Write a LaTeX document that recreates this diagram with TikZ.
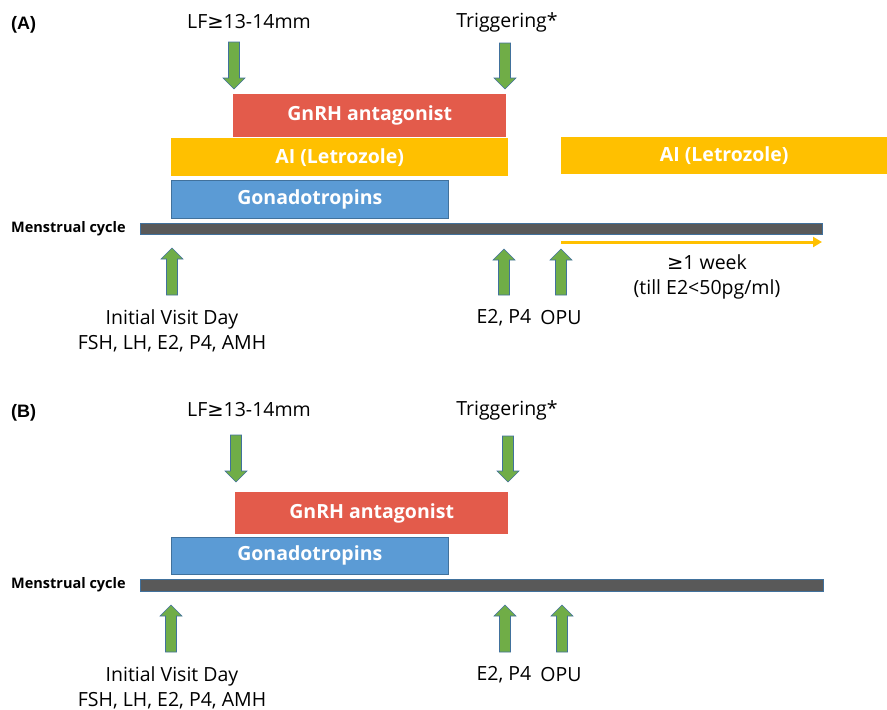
\documentclass[tikz,border=0pt]{standalone}
\usepackage{fontspec}
\usetikzlibrary{arrows.meta}
\setmainfont{Open Sans}
\newfontfamily\labfont{Liberation Sans}
\newfontfamily\symfont{DejaVu Sans}
\newcommand{\gesym}{{\symfont ≥}}
\definecolor{gnrh}{HTML}{E35B4B}
\definecolor{ai}{HTML}{FFC000}
\definecolor{gona}{HTML}{5B9BD5}
\definecolor{gonaedge}{HTML}{41719C}
\definecolor{barc}{HTML}{595959}
\definecolor{arrg}{HTML}{70AD47}
\tikzset{
  bar/.style={rectangle, inner sep=0pt, anchor=north west, font=\bfseries\fontsize{19.5}{21}\selectfont, text=white},
  lbl/.style={inner sep=0pt, font=\fontsize{19.5}{25}\selectfont, align=center},
  panel/.style={inner sep=0pt, anchor=west, font=\labfont\bfseries\fontsize{18}{20}\selectfont},
  mclbl/.style={inner sep=0pt, anchor=west, font=\bfseries\fontsize{14.5}{16}\selectfont},
  blockarr/.style={fill=arrg, draw=gonaedge, line width=0.6pt, line join=miter},
}
% down arrow: x, ytop, ytip
\newcommand{\dnarr}[3]{%
  \draw[blockarr] (#1-5.5,#2) -- (#1+5.5,#2) -- (#1+5.5,#3-11) -- (#1+11,#3-11) -- (#1,#3) -- (#1-11,#3-11) -- (#1-5.5,#3-11) -- cycle;}
% up arrow: x, ytip, ybottom
\newcommand{\uparr}[3]{%
  \draw[blockarr] (#1-5.5,#3) -- (#1+5.5,#3) -- (#1+5.5,#2+11) -- (#1+11,#2+11) -- (#1,#2) -- (#1-11,#2+11) -- (#1-5.5,#2+11) -- cycle;}
\begin{document}
\begin{tikzpicture}[x=1pt,y=-1pt]
\useasboundingbox (0,0) rectangle (887,710);
% ================= Panel A =================
\node[panel] (pA) at (11,25) {(A)};
\node[lbl] (lfA) at (249,22) {LF\gesym13-14mm};
\node[lbl] (trA) at (507,22) {Triggering*};
\dnarr{234}{42}{89}
\dnarr{505}{43}{89}
\node[bar, fill=gnrh, minimum width=273pt, minimum height=43pt] (gnA) at (233,94) {GnRH antagonist};
\node[bar, fill=ai, minimum width=337pt, minimum height=38pt] (aiA) at (171,138) {AI (Letrozole)};
\node[bar, fill=ai, minimum width=326pt, minimum height=37pt] (aiA2) at (561,137) {AI (Letrozole)};
\node[bar, fill=gona, draw=gonaedge, line width=0.6pt, minimum width=277pt, minimum height=38pt] (goA) at (171,180) {Gonadotropins};
\node[mclbl] (mcA) at (11,229) {Menstrual cycle};
\node[rectangle, inner sep=0pt, anchor=north west, fill=barc, draw=gonaedge, line width=0.6pt, minimum width=682pt, minimum height=11pt] (cyA) at (140,223) {};
\coordinate (yA1) at (561,242);
\coordinate (yA2) at (822,242);
\draw[ai, line width=3pt, -{Triangle[length=9pt,width=10pt]}] (yA1) -- (yA2);
\uparr{172}{248}{295}
\uparr{504}{249}{295}
\uparr{561}{249}{295}
\node[lbl] (ivA) at (172,331) {Initial Visit Day\\FSH, LH, E2, P4, AMH};
\node[lbl] (e2A) at (504,318) {E2, P4};
\node[lbl] (opA) at (561,318) {OPU};
\node[lbl] (wkA) at (707,277) {\gesym1 week\\(till E2<50pg/ml)};
% ================= Panel B =================
\node[panel] (pB) at (11,413) {(B)};
\node[lbl] (lfB) at (249,410) {LF\gesym13-14mm};
\node[lbl] (trB) at (507,410) {Triggering*};
\dnarr{236}{435}{482}
\dnarr{508}{436}{482}
\node[bar, fill=gnrh, minimum width=273pt, minimum height=42pt] (gnB) at (235,492) {GnRH antagonist};
\node[bar, fill=gona, draw=gonaedge, line width=0.6pt, minimum width=277pt, minimum height=37pt] (goB) at (171,537) {Gonadotropins};
\node[mclbl] (mcB) at (11,585) {Menstrual cycle};
\node[rectangle, inner sep=0pt, anchor=north west, fill=barc, draw=gonaedge, line width=0.6pt, minimum width=683pt, minimum height=12pt] (cyB) at (140,579) {};
\uparr{171}{605}{652}
\uparr{505}{605}{652}
\uparr{562}{605}{652}
\node[lbl] (ivB) at (172,688) {Initial Visit Day\\FSH, LH, E2, P4, AMH};
\node[lbl] (e2B) at (504,675) {E2, P4};
\node[lbl] (opB) at (561,675) {OPU};
\end{tikzpicture}
\end{document}
